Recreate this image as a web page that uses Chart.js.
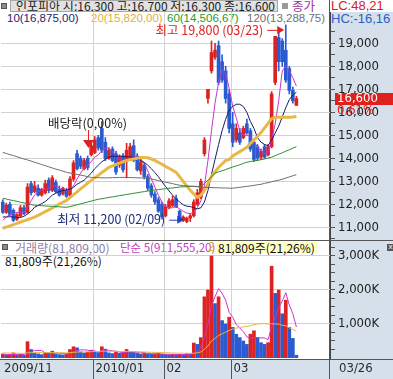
<!DOCTYPE html>
<html><head><meta charset="utf-8">
<script src="https://cdn.jsdelivr.net/npm/chart.js@4.4.1/dist/chart.umd.min.js"></script>
<style>
html,body{margin:0;padding:0;background:#fff;overflow:hidden}
#wrap{position:relative;width:393px;height:379px;background:#fff;font-family:"Noto Sans CJK KR",sans-serif}
#rcol{position:absolute;left:330px;top:12px;width:63px;height:367px;background:#d6e0ea}
#xband{position:absolute;left:0;top:359px;width:393px;height:20px;background:#d6e0ea;border-top:1px solid #555}
canvas{position:absolute;left:0}
.t{position:absolute;white-space:nowrap}
.n{font-family:"Liberation Sans Narrow","DejaVu Sans Condensed","Liberation Sans",sans-serif}
.l{font-family:"Liberation Sans",sans-serif}
</style></head>
<body><div id="wrap">
<div id="rcol"></div>
<div id="xband"></div>
<div class="t" style="left:329px;top:0;width:1px;height:379px;background:#555"></div>
<div class="t" style="left:0;top:240px;width:393px;height:1px;background:#555"></div>
<!-- header row 1 -->
<div class="t" style="left:1px;top:3px;width:6px;height:6px;background:#8c8c8c;border:1px solid #555;box-sizing:border-box"></div>
<div class="t" id="title" style="left:10px;top:0;width:268px;height:12px;background:#e2e2e2;border:1px solid #a8a8a8;box-sizing:border-box;font-size:12px;line-height:10px;color:#222;padding-left:5px;overflow:hidden"></div>
<div class="t" style="left:282px;top:3px;width:6px;height:6px;background:#9a9a9a"></div>
<div class="t" style="left:292px;top:-1px;font-size:12.5px;line-height:13px;color:#a0329a">종가</div>
<div class="t l" id="lc" style="left:331px;top:-1px;font-size:13px;line-height:13px;color:#d42020"></div>
<!-- header row 2 -->
<div class="t l" id="h10" style="left:7px;top:12px;font-size:11.5px;line-height:13px;color:#1c2470"></div>
<div class="t l" id="h20" style="left:91px;top:12px;font-size:11.5px;line-height:13px;color:#e0b040"></div>
<div class="t l" id="h60" style="left:167px;top:12px;font-size:11.5px;line-height:13px;color:#2a9a2a"></div>
<div class="t l" id="h120" style="left:247px;top:12px;font-size:11.5px;line-height:13px;color:#707070"></div>
<div class="t l" id="hc" style="left:331px;top:12px;font-size:13px;line-height:13px;color:#2a5fc0"></div>
<!-- volume header -->
<div class="t" style="left:2px;top:244px;width:6px;height:6px;background:#8c8c8c;border:1px solid #555;box-sizing:border-box"></div>
<div class="t" id="vh" style="left:15px;top:241px;font-size:12px;line-height:13px;color:#9080a8"></div>
<div class="t" id="vh5" style="left:120px;top:241px;font-size:11.5px;line-height:13px;color:#c040c0"></div>
<div class="t l" style="left:208px;top:241px;font-size:12px;line-height:13px;color:#e0b040">2</div>
<div class="t" id="vtag" style="left:216px;top:242px;height:11px;background:#ffffc8;font-size:12px;line-height:11px;color:#111;padding:0 2px"></div>
<div class="t" id="vtag2" style="left:5px;top:254px;font-size:12px;line-height:13px;color:#111"></div>
<div class="t l" style="left:387px;top:244px;width:7px;height:7px;background:#555;color:#fff;font-size:8px;line-height:6px;text-align:center">x</div>
<canvas id="pc" width="393" height="228" style="top:12px;width:393px;height:228px"></canvas>
<canvas id="vc" width="393" height="138" style="top:241px;width:393px;height:138px"></canvas>
</div>
<script>
// ---------------- data ----------------
const dates = ['11/24','11/25','11/26','11/27','11/30',
'12/01','12/02','12/03','12/04','12/07','12/08','12/09','12/10','12/11','12/14','12/15','12/16','12/17','12/18','12/21','12/22','12/23','12/24','12/28','12/29','12/30',
'01/04','01/05','01/06','01/07','01/08','01/11','01/12','01/13','01/14','01/15','01/18','01/19','01/20','01/21','01/22','01/25','01/26','01/27','01/28','01/29',
'02/01','02/02','02/03','02/04','02/05','02/08','02/09','02/10','02/11','02/12','02/16','02/17','02/18','02/19','02/22','02/23','02/24','02/25','02/26',
'03/02','03/03','03/04','03/05','03/08','03/09','03/10','03/11','03/12','03/15','03/16','03/17','03/18','03/19','03/22','03/23','03/24','03/25','03/26'];
const opens = [12090,11650,12000,11740,11350,11500,11850,11650,12900,12550,12700,12400,12500,13050,12600,12950,12650,12450,12600,12400,
13100,14200,14000,13550,14000,14150,14250,14900,15300,14700,14000,14400,14200,13700,14100,13900,13950,14550,14100,13450,
13700,13200,12800,12450,12200,12000,11500,11850,11950,12250,11700,11300,11250,11400,11500,12000,12300,14200,16600,17800,
18400,18900,18200,17800,16800,15500,14800,15100,14900,15500,15200,14700,14500,14050,14500,14150,14500,17300,19250,19100,
18700,17900,16950,16300];
const highs = [12200,12050,12100,11800,11600,11950,11950,12900,13000,13000,12850,12700,13050,13150,13250,13050,12800,12750,12700,13200,
13900,14350,14100,14000,14100,14700,14950,15000,15600,14900,14450,14500,14300,14150,14200,14650,14650,14800,14200,13950,
13800,13300,12900,12550,12300,12100,12000,12250,12350,12400,11750,11500,11450,11600,12200,12650,13100,14900,17000,19100,
19000,19100,18500,18000,17000,16000,15500,15300,15400,15700,15300,14800,14600,14400,14600,14600,16900,19300,19550,19200,
19800,18000,17100,16700];
const lows = [11600,11600,11500,11250,11300,11450,11550,11600,12400,12500,12350,12350,12450,12500,12550,12500,12350,12400,12300,12350,
13000,13500,13550,13500,13500,14100,14200,14350,14250,13900,13950,13850,13300,13600,13400,13150,13900,13850,13450,13300,
13100,12600,12300,12000,11650,11350,11450,11800,11900,11850,11300,11250,11200,11250,11450,11950,12250,14100,16400,17700,
18300,17200,17300,16400,15100,14500,14700,14600,14850,15050,14300,13850,13900,13950,14000,14100,14450,17200,17800,18000,
17300,16800,16400,16300];
const closes = [11650,11960,11560,11300,11550,11850,11600,12750,12500,12800,12400,12650,12900,12600,13150,12550,12400,12700,12350,13100,
13800,13550,13650,13900,13600,14550,14800,14450,14350,14000,14350,13900,13400,14050,13500,14350,14500,13900,13500,13850,
13200,12700,12400,12100,11700,11450,11900,12150,12200,11900,11350,11450,11400,11500,12100,12500,13000,14800,17000,18600,
18700,17300,17400,16600,15300,14700,15300,14700,15300,15100,14400,13950,14000,14300,14050,14500,16800,19300,18200,18200,
17400,16950,16500,16600];
const ma5 = [11300,11450,11550,11600,11650,11650,11650,11850,12150,12400,12550,12620,12650,12700,12800,12800,12700,12600,12580,12600,
12800,13100,13350,13600,13700,13850,14050,14150,14350,14450,14450,14300,14100,13950,13900,13900,14000,14100,14050,13950,
13800,13450,13100,12750,12400,12100,11900,11850,11850,11900,11800,11700,11620,11600,11650,11850,12150,12800,13900,15200,
16400,17300,17850,17700,17050,16260,15760,15200,15000,15000,14950,14700,14500,14300,14200,14250,14800,15500,16500,17800,
18000,17800,17500,17140];
const ma10 = [11450,11450,11460,11450,11430,11430,11480,11580,11700,11870,11950,12030,12120,12250,12400,12480,12560,12600,12620,12650,
12740,12870,12960,13050,13200,13350,13550,13700,13850,13950,14050,14100,14080,14100,14080,14070,14060,14050,13970,13900,
13820,13700,13550,13380,13200,12980,12780,12580,12400,12230,12100,11980,11920,11900,11850,11800,11850,12100,12600,13300,
13950,14600,15200,15700,16100,16250,16350,16350,16250,16000,15600,15300,14900,14700,14600,14550,14800,15100,15400,15800,
16200,16550,16750,16875];
const ma20 = [10960,11010,11060,11120,11170,11230,11280,11330,11390,11440,11520,11600,11680,11760,11840,11920,12010,12090,12170,12290,
12420,12540,12670,12790,12920,13040,13150,13260,13380,13490,13610,13670,13730,13790,13850,13910,13940,13970,14000,14030,
14040,14020,13970,13910,13820,13740,13650,13570,13480,13390,13200,13000,12800,12610,12450,12300,12400,12600,12900,13200,
13420,13600,13760,13900,13950,14100,14200,14290,14380,14480,14640,14800,14950,15120,15320,15520,15720,15790,15790,15790,
15780,15790,15800,15820];
const ma60 = [12260,12230,12190,12160,12130,12090,12060,12030,11990,11960,11950,11940,11930,11920,11910,11900,11890,11880,11870,11900,
11940,11980,12020,12060,12100,12140,12180,12220,12240,12270,12300,12320,12350,12380,12400,12430,12450,12480,12500,12530,
12550,12580,12600,12620,12640,12660,12680,12700,12710,12730,12750,12760,12770,12780,12780,12780,12780,12900,13050,13200,
13350,13410,13460,13510,13570,13620,13670,13720,13780,13830,13860,13890,13910,13940,13970,14010,14050,14110,14180,14240,
14310,14370,14440,14506.67];
const ma120 = [14260,14210,14160,14120,14070,14020,13970,13930,13880,13830,13780,13730,13680,13630,13580,13530,13490,13440,13390,13360,
13330,13300,13270,13240,13200,13170,13160,13160,13150,13150,13150,13160,13160,13170,13170,13170,13160,13160,13150,13150,
13140,13130,13100,13070,13030,13000,12960,12930,12900,12860,12830,12810,12800,12790,12780,12760,12740,12740,12730,12730,
12720,12720,12710,12710,12700,12700,12720,12740,12760,12780,12800,12820,12850,12870,12910,12940,12980,13020,13050,13090,
13140,13190,13240,13288.75];
const volumes = [120000,80000,100000,150000,90000,110000,80000,480000,250000,140000,120000,100000,160000,150000,200000,120000,100000,90000,110000,250000,
330000,300000,180000,150000,170000,230000,200000,160000,330000,260000,150000,130000,190000,140000,160000,250000,190000,170000,140000,120000,
140000,120000,110000,120000,130000,110000,100000,90000,110000,100000,110000,90000,130000,120000,440000,400000,600000,1800000,2000000,3000000,
1600000,1800000,1100000,1000000,1200000,900000,700000,600000,500000,400000,700000,800000,600000,450000,400000,450000,2700000,1900000,2000000,1300000,
1700000,900000,576000,81809];
const volMa5 = [110000,105000,100000,105000,110000,105000,100000,180000,200000,215000,220000,220000,150000,135000,150000,150000,145000,130000,125000,150000,
190000,220000,240000,240000,230000,205000,205000,180000,220000,235000,220000,210000,200000,180000,155000,175000,185000,180000,170000,170000,
155000,140000,125000,120000,125000,115000,110000,110000,105000,100000,100000,100000,105000,110000,130000,180000,290000,630000,1000000,1560000,
1800000,2040000,1900000,1700000,1340000,1200000,980000,880000,780000,620000,580000,600000,600000,590000,590000,540000,920000,1180000,1490000,1670000,
1920000,1560000,1300000,911555.2];
const volMa20 = [150000,148000,145000,143000,140000,138000,136000,150000,155000,158000,160000,160000,158000,157000,160000,158000,156000,154000,152000,155000,
165000,175000,178000,180000,182000,185000,190000,192000,198000,200000,200000,198000,196000,195000,192000,190000,188000,185000,182000,178000,
175000,172000,168000,165000,162000,158000,155000,150000,147000,145000,142000,140000,138000,138000,140000,152000,175000,260000,355000,500000,
575000,660000,710000,760000,810000,850000,880000,900000,915000,930000,950000,980000,1000000,1010000,1010000,1000000,1010000,1000000,1000000,960000,
950000,890000,840000,790000];
const monthMarks = [{idx:0,label:'2009/11'},{idx:26,label:'2010/01'},{idx:46,label:'02'},{idx:65,label:'03'}];
const priceTicks = [10500,11000,11500,12000,12500,13000,13500,14000,14500,15000,15500,16000,16500,17000,17500,18000,18500,19000,19500];
const volTicks = [250000,500000,750000,1000000,1250000,1500000,1750000,2000000,2250000,2500000,2750000,3000000,3250000];
const EMPTY_SLOTS = 9;

// ---------------- helpers ----------------
const N = closes.length;
const fmt = v => Math.round(v).toLocaleString('en-US');
const fmt2 = v => { const s = v.toFixed(2).split('.'); return Number(s[0]).toLocaleString('en-US') + ',' + s[1]; };
const hiVal = Math.max(...highs), hiIdx = highs.indexOf(hiVal);
const loVal = Math.min(...lows), loIdx = lows.indexOf(loVal);
const last = closes[N-1];
const RED = '#dd2222', BLUE = '#2a5bd0';
const labels = dates.concat(Array(EMPTY_SLOTS).fill(''));
const NARROW = '"Liberation Sans Narrow","DejaVu Sans Condensed","Liberation Sans",sans-serif';
const KR = '"Noto Sans CJK KR",sans-serif';

document.getElementById('title').textContent = `인포피아 시:${fmt(opens[N-1])} 고:${fmt(highs[N-1])} 저:${fmt(lows[N-1])} 종:${fmt(last)}`;
document.getElementById('lc').textContent = 'LC:' + fmt2((last-loVal)/loVal*100);
document.getElementById('hc').textContent = 'HC:' + fmt2((last-hiVal)/hiVal*100);
document.getElementById('h10').textContent = '10(' + fmt2(ma10[N-1]) + ')';
document.getElementById('h20').textContent = '20(' + fmt2(ma20[N-1]) + ')';
document.getElementById('h60').textContent = '60(' + fmt2(ma60[N-1]) + ')';
document.getElementById('h120').textContent = '120(' + fmt2(ma120[N-1]) + ')';
document.getElementById('vh').textContent = '거래량(' + fmt2(volumes[N-1]) + ')';
document.getElementById('vh5').textContent = '단순 5(' + fmt2(volMa5[N-1]) + ')';
document.getElementById('vtag').textContent = fmt(volumes[N-1]) + '주(21,26%)';
document.getElementById('vtag2').textContent = fmt(volumes[N-1]) + '주(21,26%)';

function fixAxis(scale){ scale.width = 63; scale.paddingTop = 0; scale.paddingBottom = 0; }

function monthLines(chart){
  const {ctx, chartArea:a, scales:{x}} = chart;
  ctx.save(); ctx.strokeStyle = '#d2d2d2'; ctx.lineWidth = 1;
  monthMarks.forEach(m => {
    if (m.idx === 0) return;
    const px = Math.round((x.getPixelForValue(m.idx-1) + x.getPixelForValue(m.idx))/2) + 0.5;
    ctx.beginPath(); ctx.moveTo(px, a.top); ctx.lineTo(px, a.bottom); ctx.stroke();
  });
  ctx.restore();
}

const priceDecor = {
  id: 'priceDecor',
  beforeDatasetsDraw(chart){ monthLines(chart); },
  afterDatasetsDraw(chart){
    const {ctx, scales:{x, y}} = chart;
    ctx.save();
    ctx.font = '12.5px ' + KR; ctx.textBaseline = 'middle';
    // highest
    let px = x.getPixelForValue(hiIdx), py = y.getPixelForValue(hiVal) + 5;
    let tip = px - 1.5;
    ctx.strokeStyle = RED; ctx.fillStyle = RED; ctx.lineWidth = 1;
    ctx.beginPath(); ctx.moveTo(tip-17, py+0.5); ctx.lineTo(tip-6, py+0.5); ctx.stroke();
    ctx.beginPath(); ctx.moveTo(tip, py); ctx.lineTo(tip-7, py-4); ctx.lineTo(tip-7, py+4); ctx.closePath(); ctx.fill();
    ctx.textAlign = 'right';
    ctx.fillText(`최고 ${fmt(hiVal)} (${dates[hiIdx]})`, tip-21, py);
    // lowest
    px = x.getPixelForValue(loIdx); py = y.getPixelForValue(loVal) - 3;
    tip = px - 2.5;
    ctx.strokeStyle = '#1f3fd0'; ctx.fillStyle = '#1f3fd0';
    ctx.beginPath(); ctx.moveTo(tip-15, py+0.5); ctx.lineTo(tip-6, py+0.5); ctx.stroke();
    ctx.beginPath(); ctx.moveTo(tip, py); ctx.lineTo(tip-7, py-4); ctx.lineTo(tip-7, py+4); ctx.closePath(); ctx.fill();
    ctx.fillStyle = '#1c2c78';
    ctx.fillText(`최저 ${fmt(loVal)} (${dates[loIdx]})`, tip-19, py);
    // ex-dividend marker
    const exIdx = dates.indexOf('12/29');
    px = Math.round(x.getPixelForValue(exIdx)) + 0.5; py = y.getPixelForValue(highs[exIdx]) - 8;
    ctx.strokeStyle = RED; ctx.fillStyle = RED;
    ctx.beginPath(); ctx.moveTo(px, py-18); ctx.lineTo(px, py-8); ctx.stroke();
    ctx.beginPath(); ctx.moveTo(px, py); ctx.lineTo(px-5.5, py-8); ctx.lineTo(px+5.5, py-8); ctx.closePath(); ctx.fill();
    ctx.fillStyle = '#222'; ctx.textAlign = 'center';
    ctx.fillText('배당락(0,00%)', px-1, py-25);
    ctx.restore();
  },
  afterDraw(chart){
    const {ctx, chartArea:a, scales:{y}} = chart;
    const yy = y.getPixelForValue(last);
    ctx.save();
    ctx.fillStyle = '#e0201c';
    ctx.fillRect(a.right+5, Math.round(yy)-6, chart.width-a.right-5, 12);
    ctx.font = '13px ' + NARROW; ctx.textBaseline = 'middle'; ctx.textAlign = 'left';
    ctx.fillStyle = '#fff';
    ctx.fillText(fmt(last), a.right+7, Math.round(yy));
    ctx.fillStyle = '#e0201c';
    ctx.fillText(fmt2((last-closes[N-2])/closes[N-2]*100) + '%', a.right+7, Math.round(yy)+12);
    ctx.restore();
  }
};

const volDecor = {
  id: 'volDecor',
  beforeDatasetsDraw(chart){ monthLines(chart); },
  afterDraw(chart){
    const {ctx, chartArea:a, scales:{x}} = chart;
    ctx.save();
    ctx.font = '13px ' + NARROW; ctx.textBaseline = 'middle'; ctx.textAlign = 'left'; ctx.fillStyle = '#2a2a2a';
    ctx.strokeStyle = '#555'; ctx.lineWidth = 1;
    const top = a.bottom + 1, bot = chart.height;
    monthMarks.forEach(m => {
      let px;
      if (m.idx === 0) px = a.left + 1;
      else {
        px = Math.round((x.getPixelForValue(m.idx-1) + x.getPixelForValue(m.idx))/2) + 0.5;
        ctx.beginPath(); ctx.moveTo(px, top); ctx.lineTo(px, bot); ctx.stroke();
      }
      ctx.fillText(m.label, px + 2, top + 10);
    });
    ctx.fillText(dates[N-1], a.right + 9, top + 10);
    ctx.restore();
  }
};

Chart.defaults.animation = false;
Chart.defaults.plugins.legend.display = false;
Chart.defaults.plugins.tooltip.enabled = false;

const candleColor = c => closes[c.dataIndex] >= opens[c.dataIndex] ? RED : BLUE;
const lineDs = (data, color, w) => ({type:'line', data, borderColor:color, borderWidth:w, pointRadius:0, tension:0, fill:false, order:0});

new Chart(document.getElementById('pc'), {
  type: 'bar',
  data: {
    labels,
    datasets: [
      lineDs(ma120, '#6e6e6e', 1),
      lineDs(ma60, '#2c8c2c', 1),
      lineDs(ma20, '#e6b845', 3),
      lineDs(ma10, '#1a1a6e', 1),
      lineDs(ma5, '#cc33cc', 1),
      {data: opens.map((o,i)=>[o, closes[i]]), backgroundColor: candleColor, barThickness: 3, grouped:false, minBarLength:1, order:1},
      {data: lows.map((l,i)=>[l, highs[i]]), backgroundColor: candleColor, barThickness: 1, grouped:false, order:2}
    ]
  },
  options: {
    responsive:false, devicePixelRatio:1, maintainAspectRatio:false,
    layout:{padding:{left:1, right:0, top:0, bottom:0}},
    scales: {
      x: {display:false, offset:true},
      y: {
        position:'right', min:10448, max:20361,
        afterBuildTicks: s => { s.ticks = priceTicks.map(v=>({value:v})); },
        afterFit: fixAxis,
        border:{display:true, color:'#444'},
        grid:{color: c => (c.tick && c.tick.value % 1000 === 0) ? '#d2d2d2' : 'rgba(0,0,0,0)', tickColor:'#555', tickLength:5},
        ticks:{autoSkip:false, padding:3, color:'#222', font:{family:NARROW, size:13},
               callback: v => v % 1000 === 0 ? fmt(v) : ''}
      }
    }
  },
  plugins:[priceDecor]
});

const volColor = c => (c.dataIndex === 0 || volumes[c.dataIndex] >= volumes[c.dataIndex-1]) ? RED : BLUE;
new Chart(document.getElementById('vc'), {
  type: 'bar',
  data: {
    labels,
    datasets: [
      lineDs(volMa20, '#e6b845', 1),
      lineDs(volMa5, '#cc33cc', 1),
      {data: volumes, backgroundColor: volColor, barThickness: 3, order:1}
    ]
  },
  options: {
    responsive:false, devicePixelRatio:1, maintainAspectRatio:false,
    layout:{padding:{left:1, right:0, top:0, bottom:21}},
    scales: {
      x: {display:false, offset:true},
      y: {
        position:'right', min:0, max:3441000,
        afterBuildTicks: s => { s.ticks = volTicks.map(v=>({value:v})); },
        afterFit: fixAxis,
        border:{display:true, color:'#444'},
        grid:{color: c => (c.tick && c.tick.value % 1000000 === 0) ? '#d2d2d2' : 'rgba(0,0,0,0)', tickColor:'#555', tickLength:5},
        ticks:{autoSkip:false, padding:3, color:'#222', font:{family:NARROW, size:13},
               callback: v => v % 1000000 === 0 ? fmt(v/1000) + 'K' : ''}
      }
    }
  },
  plugins:[volDecor]
});
</script>
</body></html>
